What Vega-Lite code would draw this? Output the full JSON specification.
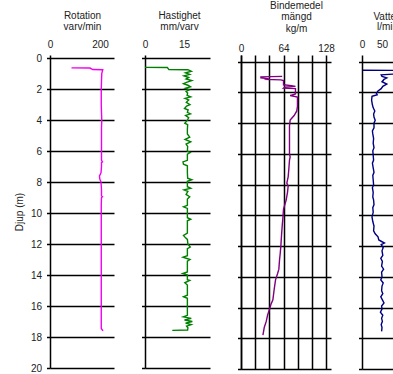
{
  "$schema": "https://vega.github.io/schema/vega-lite/v6.json",
  "padding": {"left": 14, "top": 0, "right": 0, "bottom": 0},
  "bounds": "flush",
  "spacing": 31,
  "config": {
    "view": {"stroke": null},
    "font": "Liberation Sans",
    "axis": {
      "labelFont": "Liberation Sans", "labelFontSize": 10, "labelColor": "#222",
      "titleFont": "Liberation Sans", "titleFontSize": 10, "titleFontWeight": "normal", "titleColor": "#222",
      "gridColor": "#000", "gridWidth": 1.5, "gridOpacity": 1,
      "domainColor": "#000", "domainWidth": 1.5,
      "tickColor": "#000", "tickWidth": 1.5,
      "labelFlush": false, "labelOverlap": false
    }
  },
  "hconcat": [
    {
      "width": 64, "height": 313,
      "data": {"values": [
        {"d":0.63,"v":86},{"d":0.64,"v":160},{"d":0.74,"v":171},{"d":0.75,"v":211},{"d":1.0,"v":207},{"d":1.5,"v":206},{"d":2.0,"v":205},{"d":2.5,"v":205},{"d":3.0,"v":205},{"d":3.5,"v":206},{"d":4.0,"v":207},{"d":4.5,"v":206},{"d":5.0,"v":206},{"d":5.5,"v":206},{"d":6.0,"v":206},{"d":6.6,"v":206},{"d":6.7,"v":210},{"d":6.75,"v":206},{"d":7.0,"v":206},{"d":7.4,"v":204},{"d":7.6,"v":198},{"d":7.8,"v":199},{"d":8.0,"v":204},{"d":8.5,"v":206},{"d":8.9,"v":206},{"d":8.95,"v":210},{"d":9.0,"v":206},{"d":9.5,"v":205},{"d":10.0,"v":205},{"d":11.0,"v":205},{"d":12.0,"v":205},{"d":13.0,"v":205},{"d":14.0,"v":205},{"d":15.0,"v":205},{"d":16.0,"v":205},{"d":17.0,"v":205},{"d":17.45,"v":205},{"d":17.6,"v":212}
      ]},
      "mark": {"type": "line", "color": "#f000f0", "strokeWidth": 1.4, "clip": true},
      "encoding": {
        "x": {"field": "v", "type": "quantitative", "scale": {"domain": [0, 256], "nice": false, "zero": false},
          "axis": {"orient": "top", "values": [0, 200], "grid": false, "ticks": false, "tickSize": 0, "domain": false, "labelPadding": 6,
            "title": ["Rotation", "varv/min"], "titleX": 32, "titleY": -45, "titleAlign": "center", "titleBaseline": "top", "titleLineHeight": 11}},
        "y": {"field": "d", "type": "quantitative", "scale": {"domain": [-0.2, 20], "reverse": true, "nice": false, "zero": false},
          "axis": {"values": [0,2,4,6,8,10,12,14,16,18,20], "grid": true, "tickSize": 3.5, "labelPadding": 5, "title": "Djup (m)", "titlePadding": 6}},
        "order": {"field": "d"}
      }
    },
    {
      "width": 65, "height": 313,
      "data": {"values": [
        {"d":0.60,"v":0},{"d":0.61,"v":8.6},{"d":0.74,"v":9.2},{"d":0.75,"v":16.5},{"d":0.85,"v":17.8},{"d":0.95,"v":15.6},{"d":1.05,"v":17.2},{"d":1.15,"v":15.0},{"d":1.25,"v":16.8},{"d":1.35,"v":15.8},{"d":1.45,"v":18.0},{"d":1.55,"v":16.2},{"d":1.65,"v":14.8},{"d":1.75,"v":16.5},{"d":1.85,"v":17.5},{"d":1.95,"v":15.5},{"d":2.05,"v":17.0},{"d":2.15,"v":15.8},{"d":2.25,"v":16.4},{"d":2.4,"v":16.2},{"d":2.5,"v":17.6},{"d":2.6,"v":15.4},{"d":2.7,"v":16.8},{"d":2.85,"v":15.9},{"d":3.0,"v":17.3},{"d":3.1,"v":16.0},{"d":3.25,"v":15.2},{"d":3.35,"v":16.6},{"d":3.5,"v":16.3},{"d":3.6,"v":17.5},{"d":3.7,"v":15.6},{"d":3.85,"v":16.8},{"d":4.0,"v":16.3},{"d":4.2,"v":15.3},{"d":4.3,"v":16.4},{"d":4.6,"v":16.3},{"d":4.9,"v":16.3},{"d":5.1,"v":17.2},{"d":5.25,"v":15.4},{"d":5.4,"v":17.6},{"d":5.55,"v":15.8},{"d":5.7,"v":16.4},{"d":6.0,"v":16.3},{"d":6.1,"v":17.4},{"d":6.2,"v":16.3},{"d":6.6,"v":16.3},{"d":6.7,"v":14.6},{"d":6.85,"v":14.8},{"d":6.95,"v":16.3},{"d":7.4,"v":16.3},{"d":7.75,"v":16.4},{"d":7.85,"v":18.0},{"d":7.95,"v":16.3},{"d":8.3,"v":16.3},{"d":8.4,"v":17.6},{"d":8.5,"v":15.0},{"d":8.6,"v":16.5},{"d":8.8,"v":15.8},{"d":8.95,"v":17.2},{"d":9.1,"v":16.3},{"d":9.5,"v":16.3},{"d":9.6,"v":14.8},{"d":9.7,"v":16.3},{"d":10.3,"v":16.3},{"d":10.4,"v":17.6},{"d":10.5,"v":16.3},{"d":11.3,"v":16.3},{"d":11.45,"v":14.8},{"d":11.6,"v":15.6},{"d":11.7,"v":16.3},{"d":12.0,"v":16.5},{"d":12.2,"v":17.4},{"d":12.3,"v":16.3},{"d":12.75,"v":16.3},{"d":12.85,"v":14.6},{"d":13.0,"v":17.3},{"d":13.1,"v":16.3},{"d":13.8,"v":16.3},{"d":13.9,"v":14.5},{"d":14.0,"v":16.3},{"d":14.3,"v":16.3},{"d":14.35,"v":17.2},{"d":14.5,"v":15.3},{"d":14.65,"v":16.3},{"d":15.3,"v":16.3},{"d":15.4,"v":14.8},{"d":15.5,"v":16.3},{"d":16.6,"v":16.3},{"d":16.7,"v":14.7},{"d":16.8,"v":17.8},{"d":16.9,"v":15.2},{"d":17.0,"v":18.2},{"d":17.1,"v":15.6},{"d":17.2,"v":17.8},{"d":17.3,"v":16.0},{"d":17.4,"v":16.5},{"d":17.55,"v":16.4},{"d":17.57,"v":10.5}
      ]},
      "mark": {"type": "line", "color": "#008000", "strokeWidth": 1.4, "clip": true},
      "encoding": {
        "x": {"field": "v", "type": "quantitative", "scale": {"domain": [0, 25], "nice": false, "zero": false},
          "axis": {"orient": "top", "values": [0, 15], "grid": false, "ticks": false, "tickSize": 0, "domain": false, "labelPadding": 6,
            "title": ["Hastighet", "mm/varv"], "titleX": 34, "titleY": -45, "titleAlign": "center", "titleBaseline": "top", "titleLineHeight": 11}},
        "y": {"field": "d", "type": "quantitative", "scale": {"domain": [-0.2, 20], "reverse": true, "nice": false, "zero": false},
          "axis": {"values": [0,2,4,6,8,10,12,14,16,18,20], "grid": true, "tickSize": 3.5, "labels": false, "title": null}},
        "order": {"field": "d"}
      }
    },
    {
      "width": 90, "height": 314,
      "data": {"values": [
        {"d":0.95,"v":62},{"d":0.98,"v":30},{"d":1.05,"v":30},{"d":1.1,"v":40},{"d":1.15,"v":38},{"d":1.18,"v":60},{"d":1.22,"v":64},{"d":1.5,"v":64},{"d":1.55,"v":76},{"d":1.6,"v":82},{"d":1.65,"v":66},{"d":1.72,"v":64},{"d":1.75,"v":82},{"d":2.1,"v":82},{"d":2.2,"v":74},{"d":2.3,"v":85},{"d":2.9,"v":85},{"d":3.2,"v":84},{"d":3.5,"v":80},{"d":3.8,"v":74},{"d":4.2,"v":73},{"d":5.0,"v":73},{"d":6.0,"v":73},{"d":6.2,"v":74},{"d":6.4,"v":73},{"d":7.0,"v":72},{"d":7.5,"v":71},{"d":7.9,"v":69},{"d":8.1,"v":71},{"d":8.5,"v":70},{"d":9.0,"v":68},{"d":9.3,"v":66},{"d":9.6,"v":64},{"d":10.2,"v":63},{"d":10.7,"v":62},{"d":11.3,"v":61},{"d":12.0,"v":60},{"d":12.5,"v":59},{"d":12.9,"v":58},{"d":13.5,"v":57},{"d":13.8,"v":55},{"d":14.2,"v":52},{"d":14.8,"v":50},{"d":15.5,"v":48},{"d":15.8,"v":45},{"d":16.1,"v":43},{"d":16.5,"v":40},{"d":16.9,"v":38},{"d":17.3,"v":35},{"d":17.8,"v":33}
      ]},
      "mark": {"type": "line", "color": "#800080", "strokeWidth": 1.4, "clip": true},
      "encoding": {
        "x": {"field": "v", "type": "quantitative", "scale": {"domain": [0, 135.5], "nice": false, "zero": false},
          "axis": {"orient": "top", "values": [0, 21.333, 42.667, 64, 85.333, 106.667, 128], "labelExpr": "datum.value == 0 || datum.value == 64 || datum.value == 128 ? datum.label : ''",
            "grid": true, "ticks": false, "tickSize": 0, "domain": false, "labelPadding": 1.5,
            "title": ["Bindemedel", "mängd", "kg/m"], "titleX": 55, "titleY": -55, "titleAlign": "center", "titleBaseline": "top", "titleLineHeight": 11.5}},
        "y": {"field": "d", "type": "quantitative", "scale": {"domain": [-0.44, 20], "reverse": true, "nice": false, "zero": false},
          "axis": {"values": [0,2,4,6,8,10,12,14,16,18,20], "grid": true, "tickSize": 3.5, "labels": false, "title": null}},
        "order": {"field": "d"}
      }
    },
    {
      "width": 50, "height": 314,
      "data": {"values": [
        {"d":0.55,"v":2},{"d":0.56,"v":82},{"d":0.8,"v":82},{"d":0.85,"v":48},{"d":0.95,"v":50},{"d":1.05,"v":62},{"d":1.15,"v":55},{"d":1.3,"v":50},{"d":1.45,"v":62},{"d":1.6,"v":52},{"d":1.75,"v":48},{"d":1.9,"v":40},{"d":2.05,"v":36},{"d":2.15,"v":38},{"d":2.25,"v":25},{"d":2.5,"v":24},{"d":2.8,"v":26},{"d":3.0,"v":28},{"d":3.2,"v":32},{"d":3.4,"v":29},{"d":3.6,"v":30},{"d":3.8,"v":33},{"d":4.0,"v":30},{"d":4.3,"v":30},{"d":4.5,"v":26},{"d":4.7,"v":27},{"d":5.0,"v":29},{"d":5.3,"v":28},{"d":5.6,"v":30},{"d":5.8,"v":27},{"d":6.1,"v":28},{"d":6.4,"v":29},{"d":6.6,"v":26},{"d":6.9,"v":28},{"d":7.2,"v":30},{"d":7.4,"v":27},{"d":7.7,"v":28},{"d":8.0,"v":29},{"d":8.2,"v":26},{"d":8.5,"v":28},{"d":8.8,"v":27},{"d":9.0,"v":29},{"d":9.3,"v":30},{"d":9.5,"v":27},{"d":9.8,"v":28},{"d":10.1,"v":25},{"d":10.4,"v":27},{"d":10.7,"v":30},{"d":11.0,"v":29},{"d":11.2,"v":33},{"d":11.4,"v":40},{"d":11.6,"v":42},{"d":11.8,"v":56},{"d":11.9,"v":48},{"d":12.1,"v":53},{"d":12.3,"v":50},{"d":12.6,"v":52},{"d":12.8,"v":47},{"d":13.0,"v":51},{"d":13.3,"v":49},{"d":13.5,"v":54},{"d":13.7,"v":49},{"d":14.0,"v":50},{"d":14.2,"v":47},{"d":14.4,"v":53},{"d":14.6,"v":50},{"d":14.9,"v":49},{"d":15.1,"v":52},{"d":15.3,"v":47},{"d":15.5,"v":51},{"d":15.7,"v":55},{"d":15.9,"v":49},{"d":16.1,"v":50},{"d":16.3,"v":46},{"d":16.5,"v":52},{"d":16.7,"v":49},{"d":16.9,"v":51},{"d":17.1,"v":48},{"d":17.3,"v":50},{"d":17.55,"v":49}
      ]},
      "mark": {"type": "line", "color": "#000080", "strokeWidth": 1.4, "clip": true},
      "encoding": {
        "x": {"field": "v", "type": "quantitative", "scale": {"domain": [0, 125], "nice": false, "zero": false},
          "axis": {"orient": "top", "values": [0, 50, 100], "grid": false, "ticks": false, "tickSize": 0, "domain": false, "labelPadding": 6,
            "title": ["Vatten", "l/min"], "titleX": 25, "titleY": -44, "titleAlign": "center", "titleBaseline": "top", "titleLineHeight": 10.5}},
        "y": {"field": "d", "type": "quantitative", "scale": {"domain": [-0.44, 20], "reverse": true, "nice": false, "zero": false},
          "axis": {"values": [0,2,4,6,8,10,12,14,16,18,20], "grid": true, "tickSize": 3.5, "labels": false, "title": null}},
        "order": {"field": "d"}
      }
    }
  ]
}
